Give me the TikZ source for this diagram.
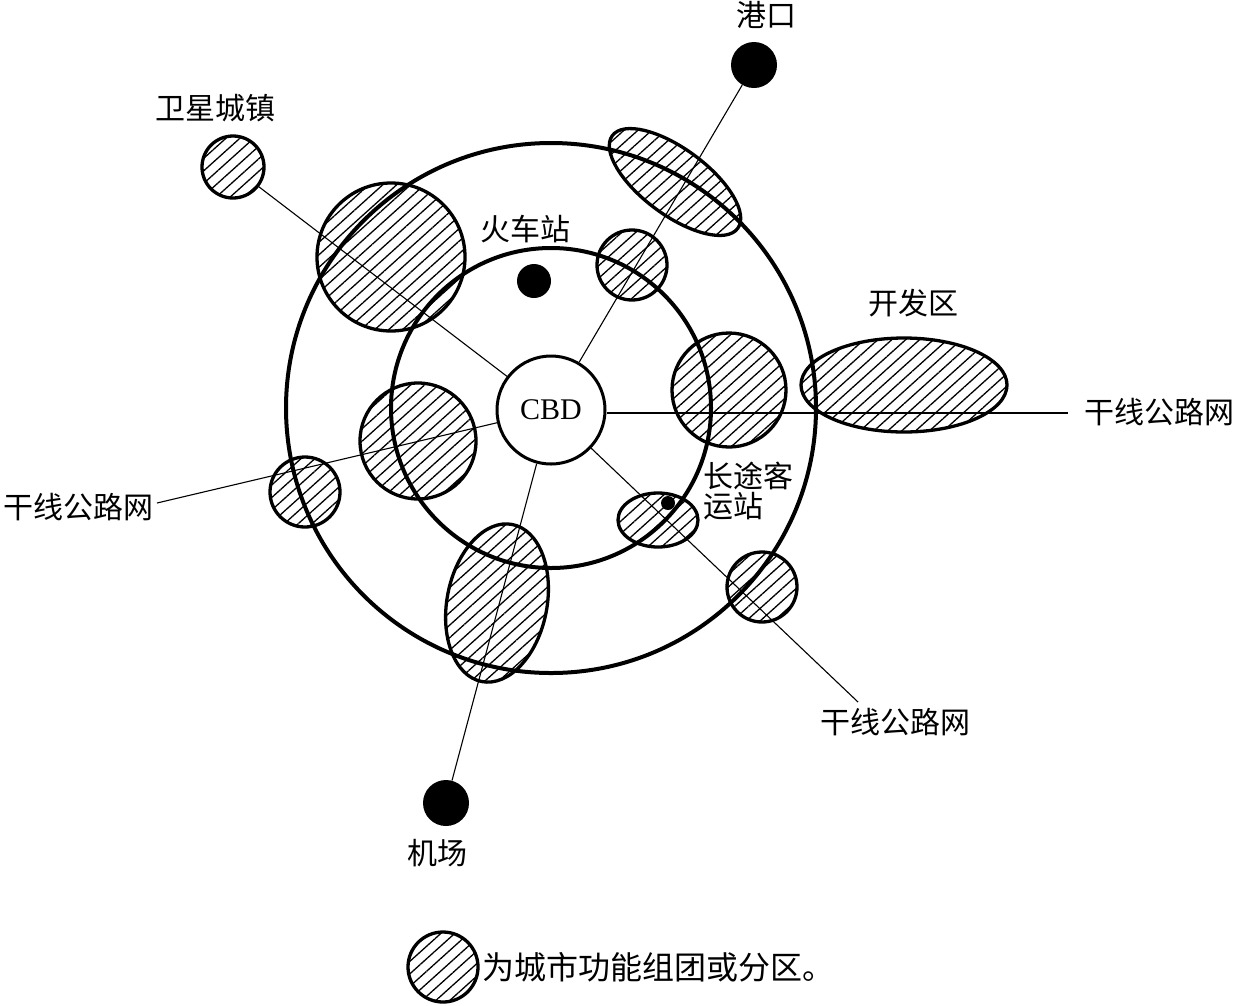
\documentclass[tikz,border=0pt]{standalone}
\usepackage{fontspec}
\setmainfont{Liberation Serif}
\newfontfamily\cjk{Noto Sans CJK SC}
\usetikzlibrary{patterns.meta}
\begin{document}
\begin{tikzpicture}[x=1pt,y=-1pt,
 zone/.style={draw,line width=3.3pt,pattern={Lines[angle=42,distance=9.3pt,line width=1.3pt]}},
 zonec/.style={zone,circle,inner sep=0pt},
 ring/.style={draw,line width=4pt},
 road/.style={line width=1.1pt},
 dot/.style={circle,fill=black,inner sep=0pt},
 lbl/.style={font=\cjk\fontsize{30}{30}\selectfont,inner sep=0pt}]
\useasboundingbox (0,0) rectangle (1236,1005);
% functional zones
\node[zonec,minimum size=62pt] (sat) at (233,167) {};
\node[zonec,minimum size=148pt] (z1) at (391,257) {};
\node[zonec,minimum size=70pt] (z2) at (632,265) {};
\node[zonec,minimum size=114pt] (z3) at (729,390) {};
\node[zonec,minimum size=116pt] (z4) at (418,441) {};
\node[zonec,minimum size=70pt] (z5) at (305,492) {};
\node[zonec,minimum size=70pt] (z6) at (762,587) {};
\path[zone,rotate around={-36.5:(675,182)}] (675,182) ellipse [x radius=78, y radius=33];
\path[zone] (904,385) ellipse [x radius=103, y radius=47];
\path[zone] (658,520) ellipse [x radius=40, y radius=27];
\path[zone,rotate around={-11:(497,603)}] (497,603) ellipse [x radius=50, y radius=80];
% rings
\draw[ring] (551,408) circle [radius=265];
\draw[ring] (551,408) circle [radius=160];
\node[circle,draw,fill=white,line width=3pt,minimum size=108pt,inner sep=0pt,font=\fontsize{30}{30}\selectfont] (cbd) at (551,410) {CBD};
% nodes (points)
\node[dot,minimum size=46pt] (port) at (754,65) {};
\node[dot,minimum size=34pt] (train) at (534,281) {};
\node[dot,minimum size=46pt] (air) at (446,803) {};
\node[dot,minimum size=14pt] (bus) at (668,503) {};
\coordinate (rw) at (157,503);
\coordinate (re) at (1068,413);
\coordinate (rs) at (858,702);
% roads
\draw[road] (sat) -- (cbd);
\draw[road] (port) -- (cbd);
\draw[road] (air) -- (cbd);
\draw[road] (rw) -- (cbd);
\draw[road] (re) -- (re -| cbd.east);
\draw[road] (rs) -- (cbd);
% labels
\node[lbl] (lport) at (766,15) {港口};
\node[lbl] (lsat) at (215,108) {卫星城镇};
\node[lbl] (ltrain) at (525,229) {火车站};
\node[lbl] (ldev) at (913,303) {开发区};
\node[lbl] (le) at (1159,412) {干线公路网};
\node[lbl] (lw) at (78,507) {干线公路网};
\node[lbl] (ls) at (895,722) {干线公路网};
\node[lbl] (lair) at (437,853) {机场};
\node[lbl,anchor=west,align=left] (lbus) at (703,491) {长途客\\运站};
% legend
\node[zonec,minimum size=70pt] (leg) at (443,967) {};
\node[lbl,anchor=west,font=\cjk\fontsize{32}{32}\selectfont] (legt) at (482,967) {为城市功能组团或分区。};
\end{tikzpicture}
\end{document}
